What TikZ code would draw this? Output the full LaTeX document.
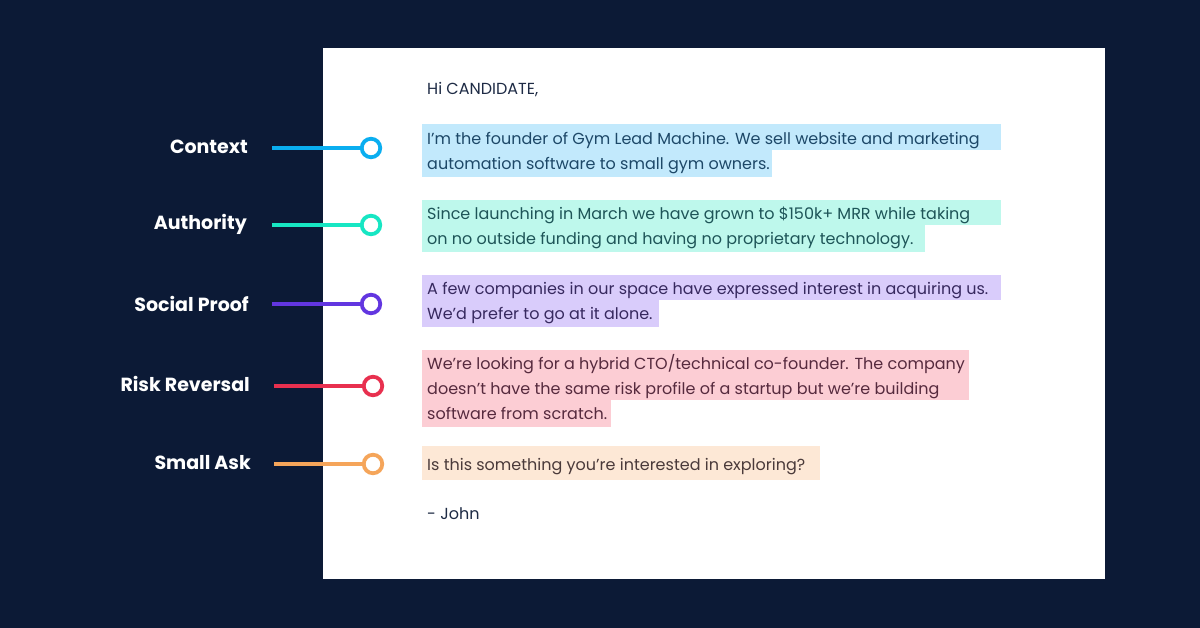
\documentclass[tikz,border=0pt]{standalone}
\usepackage{fontspec}
\setmainfont{Poppins}
\definecolor{bg}{HTML}{0C1A36}
\definecolor{body}{HTML}{1E2B45}
\definecolor{cA}{HTML}{0AAEF0}\definecolor{hA}{HTML}{C2E9FC}\definecolor{tA}{HTML}{1D4868}
\definecolor{cB}{HTML}{17E6C3}\definecolor{hB}{HTML}{BEF8EC}\definecolor{tB}{HTML}{1E5558}
\definecolor{cC}{HTML}{6236E0}\definecolor{hC}{HTML}{D9CCFB}\definecolor{tC}{HTML}{37295F}
\definecolor{cD}{HTML}{E8304F}\definecolor{hD}{HTML}{FCCDD4}\definecolor{tD}{HTML}{562A3E}
\definecolor{cE}{HTML}{F5A55A}\definecolor{hE}{HTML}{FDE8D6}\definecolor{tE}{HTML}{4A3A3A}
\tikzset{
  lbl/.style={anchor=east,text=white,font=\fontsize{19}{22}\selectfont\bfseries,inner sep=0pt},
  txt/.style={anchor=base west,font=\fontsize{16}{19}\selectfont,inner sep=0pt},
  dot/.style={circle,draw=#1,line width=3.8pt,fill=white,minimum size=18.5pt,inner sep=0pt},
  link/.style={draw=#1,line width=3.6pt},
}
\begin{document}
\begin{tikzpicture}[x=1pt,y=-1pt]
\useasboundingbox (0,0) rectangle (1200,628);
\fill[bg] (0,0) rectangle (1200,628);
\fill[white] (323,48) rectangle (1105,579);
% highlights
\fill[hA] (422,124) rectangle (1001,150);
\fill[hA] (422,150) rectangle (772,177);
\fill[hB] (422,200) rectangle (1001,225);
\fill[hB] (422,225) rectangle (925,252);
\fill[hC] (422,275) rectangle (1001,300);
\fill[hC] (422,300) rectangle (659,327);
\fill[hD] (422,350) rectangle (969,400);
\fill[hD] (422,400) rectangle (611,427);
\fill[hE] (422,446) rectangle (820,480);
% texts
\node[txt,text=body] (t0) at (427,94.5) {Hi CANDIDATE,};
\node[txt,text=tA] (t1) at (427,144.5) {I’m the founder of Gym Lead Machine. We sell website and marketing};
\node[txt,text=tA] (t2) at (427,169.5) {automation software to small gym owners.};
\node[txt,text=tB] (t3) at (427,219.5) {Since launching in March we have grown to \$150k+ MRR while taking};
\node[txt,text=tB] (t4) at (427,244.5) {on no outside funding and having no proprietary technology.};
\node[txt,text=tC] (t5) at (427,294.5) {A few companies in our space have expressed interest in acquiring us.};
\node[txt,text=tC] (t6) at (427,319.5) {We’d prefer to go at it alone.};
\node[txt,text=tD] (t7) at (427,369.5) {We’re looking for a hybrid CTO/technical co-founder. The company};
\node[txt,text=tD] (t8) at (427,394.5) {doesn’t have the same risk profile of a startup but we’re building};
\node[txt,text=tD] (t9) at (427,419.5) {software from scratch.};
\node[txt,text=tE] (t10) at (427,470.5) {Is this something you’re interested in exploring?};
\node[txt,text=body] (t11) at (427,519.5) {- John};
% labels
\node[lbl] (lA) at (248,147) {Context};
\node[lbl] (lB) at (247,224) {Authority};
\node[lbl] (lC) at (249,304) {Social Proof};
\node[lbl] (lD) at (250,384) {Risk Reversal};
\node[lbl] (lE) at (251,463) {Small Ask};
% connectors
\coordinate (sA) at (272,148);
\coordinate (sB) at (272,225);
\coordinate (sC) at (272,304);
\coordinate (sD) at (274,386);
\coordinate (sE) at (274,464);
\node[dot=cA] (dA) at (371,148) {};
\node[dot=cB] (dB) at (371,225) {};
\node[dot=cC] (dC) at (371,304) {};
\node[dot=cD] (dD) at (373,386) {};
\node[dot=cE] (dE) at (373,464) {};
\draw[link=cA] (sA) -- (dA);
\draw[link=cB] (sB) -- (dB);
\draw[link=cC] (sC) -- (dC);
\draw[link=cD] (sD) -- (dD);
\draw[link=cE] (sE) -- (dE);
\end{tikzpicture}
\end{document}
